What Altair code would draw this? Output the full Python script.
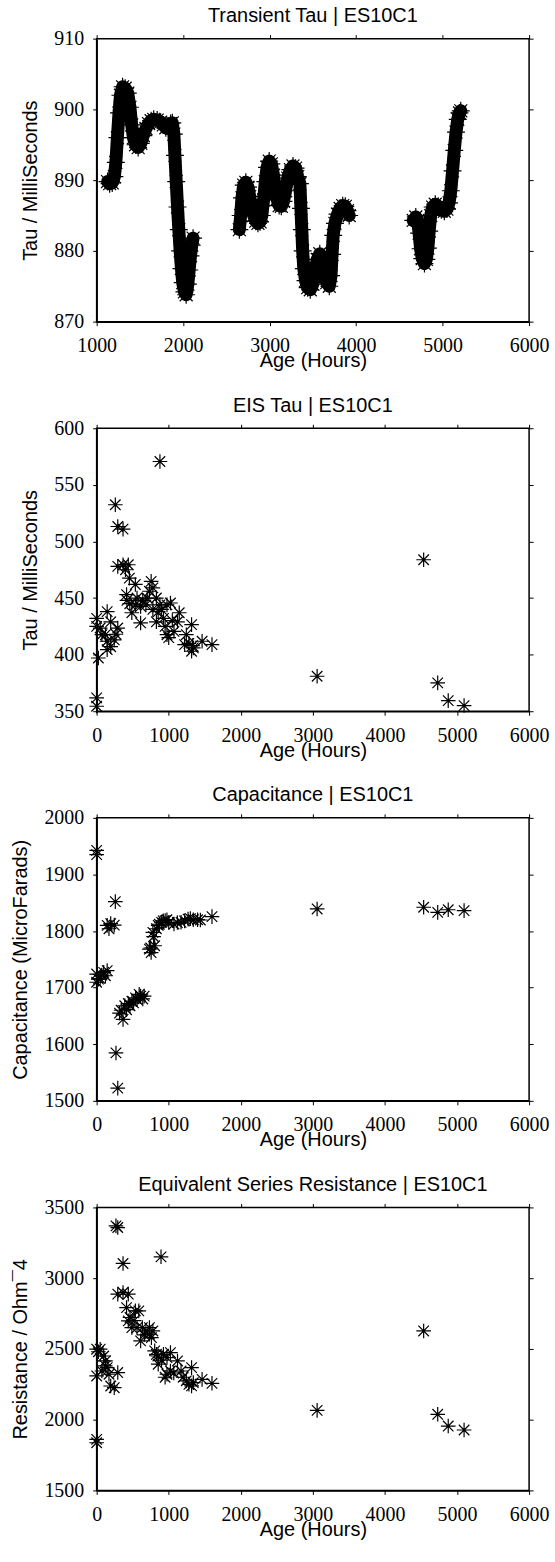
import altair as alt
import pandas as pd

# ---------------- Transient Tau | ES10C1 (three recording segments) ----------------
tt_a_hours = [1126, 1150, 1180, 1205, 1222, 1240, 1258, 1275, 1300, 1330, 1360, 1385, 1405, 1425, 1450,
              1480, 1510, 1540, 1570, 1600, 1630, 1660, 1700, 1740, 1770, 1800, 1830, 1855, 1875, 1893,
              1905, 1920, 1935, 1950, 1965, 1980, 1995, 2015, 2035, 2055, 2070, 2085, 2100, 2115]
tt_a_tau = [889.8, 889.5, 889.6, 890.5, 892.5, 896, 899.5, 902, 903.2, 903, 902.3, 900.3, 897.8, 896, 895,
            894.6, 895.2, 896.3, 897.3, 898, 898.4, 898.6, 898.5, 898.2, 897.8, 897.4, 897.6, 898, 898.1, 896.5,
            893.5, 889.8, 886.2, 883, 880, 877.5, 875.5, 874.2, 873.8, 875.3, 877.3, 879.3, 880.8, 881.8]

tt_b_hours = [2650, 2665, 2680, 2700, 2725, 2750, 2770, 2790, 2815, 2840, 2865, 2890, 2910, 2930, 2950,
              2970, 2995, 3020, 3045, 3065, 3085, 3110, 3135, 3160, 3185, 3210, 3240, 3270, 3300, 3325,
              3350, 3362, 3372, 3382, 3395, 3415, 3440, 3470, 3500, 3525, 3550, 3580, 3610, 3635, 3660,
              3690, 3710, 3722, 3735, 3755, 3785, 3815, 3845, 3875, 3900, 3920]
tt_b_tau = [883, 885, 887.5, 889.3, 889.7, 889, 887.7, 886.3, 885, 884.2, 883.9, 884.1, 885, 887.2, 889.8,
            891.8, 892.7, 892.3, 890.7, 888.8, 887.3, 886.4, 886.3, 887, 888.5, 890.3, 891.5, 892, 891.7, 890.5,
            889.5, 886, 883, 880, 877.5, 875.8, 874.8, 874.5, 875.3, 877, 878.8, 879.6, 878.7, 877, 875.5,
            875, 876.5, 879.5, 882.2, 883.9, 885.2, 886, 886.4, 886.3, 885.7, 885]

tt_c_hours = [4660, 4690, 4712, 4728, 4745, 4765, 4790, 4812, 4830, 4845, 4862, 4885, 4915, 4950, 4985,
              5020, 5050, 5075, 5095, 5115, 5135, 5155, 5175, 5195, 5210]
tt_c_tau = [884.3, 884.8, 884.3, 882.5, 880.3, 878.9, 878.2, 878.8, 880.4, 882.8, 885, 886.2, 886.6, 886.3, 885.8,
            885.6, 885.9, 886.8, 888.5, 891.3, 894.2, 896.8, 898.6, 899.5, 899.8]

# ---------------- EIS Tau | ES10C1 ----------------
eis_hours = [878, 259, 293, 366, 293, 366, 439, 454, 537, 415, 537, 488, 610, 683, 756, 780, 732, 610, 829,
             878, 854, 829, 976, 1024, 927, 976, 1073, 1146, 1122, 1244, 1317, 1220, 1341, 1317, 1463, 1600,
             0, 0, 49, 73, 0, 0, 24, 146, 195, 293, 122, 146, 146, 244, 268, 195,
             400, 420, 460, 560, 640, 700, 780, 900, 950, 1050, 1000, 1280, 1330,
             3059, 4537, 4732, 4878, 5098]
eis_tau = [570.6, 532.4, 513.2, 510.9, 478, 479.4, 479.4, 467.6, 462, 453, 444, 437, 442.6, 444, 464.7, 459,
           456, 428, 450, 444, 438, 429, 444, 445.6, 432, 417.6, 420.6, 437, 429, 417.6, 426.5, 408.8, 406,
           403, 411.8, 408.8,
           432, 425, 423.5, 417.6, 361.8, 354.4, 397, 438, 429, 423.5, 417.6, 411.8, 404.4, 413, 418, 407,
           475, 448, 445, 450, 448, 450, 440, 440, 425, 430, 415, 410, 408,
           380.9, 483.8, 375, 359.4, 355]

# ---------------- Capacitance | ES10C1 ----------------
cap_hours = [0, 0, 259, 146, 171, 244, 195, 0, 0, 49, 98, 122, 146, 268, 293, 317, 366, 415, 463, 512, 561,
             610, 659, 732, 756, 805, 780, 829, 854, 902, 951, 1000, 1073, 1171, 1268, 1341, 1439, 1600,
             340, 390, 440, 490, 540, 590, 640, 750, 790, 870, 925, 975, 1120, 1220, 1300, 1400, 24, 73,
             3059, 4537, 4732, 4878, 5098]
cap_uf = [1942.6, 1935, 1852, 1810, 1804, 1810.5, 1813, 1724, 1709.5, 1716, 1727, 1721, 1730, 1584.6, 1522.5,
          1655, 1644, 1661, 1668, 1673, 1679, 1685, 1685, 1768, 1762, 1774, 1797.6, 1804, 1810, 1815.4,
          1818.3, 1815, 1812.4, 1815.4, 1821, 1820, 1819.5, 1825.4,
          1660, 1668, 1672, 1676, 1682, 1688, 1680, 1770, 1790, 1812, 1818, 1820, 1815, 1818, 1822, 1820,
          1715, 1722,
          1839, 1842, 1833, 1837.6, 1836]

# ---------------- Equivalent Series Resistance | ES10C1 ----------------
esr_hours = [268, 293, 366, 893, 293, 366, 439, 415, 463, 439, 537, 585, 488, 610, 634, 683, 732, 780, 732,
             805, 829, 854, 927, 976, 1024, 976, 1024, 1122, 1171, 1244, 1317, 1317, 1341, 1463, 1600,
             0, 49, 0, 98, 122, 146, 171, 195, 244, 293, 73, 0, 0,
             520, 560, 660, 760, 850, 900, 950, 1070, 1200, 1280, 24, 120,
             3059, 4537, 4732, 4878, 5098]
esr_ohm = [3370, 3358, 3104, 3151, 2887, 2899, 2887, 2792, 2722, 2698, 2769, 2769, 2651, 2557, 2651, 2627,
           2604, 2627, 2651, 2486, 2462, 2392, 2462, 2439, 2474, 2321, 2344, 2415, 2344, 2274, 2368, 2239,
           2262, 2285, 2257,
           2498, 2498, 2309, 2450, 2415, 2368, 2321, 2238, 2226, 2333, 2344, 1861, 1837,
           2700, 2650, 2600, 2580, 2450, 2420, 2300, 2330, 2300, 2250, 2480, 2380,
           2066, 2627, 2038, 1955, 1927]

x_ticks_tt = [1000, 2000, 3000, 4000, 5000, 6000]
x_ticks = [0, 1000, 2000, 3000, 4000, 5000, 6000]
y_ticks_tt = [870, 880, 890, 900, 910]
y_ticks_eis = [350, 400, 450, 500, 550, 600]
y_ticks_cap = [1500, 1600, 1700, 1800, 1900, 2000]
y_ticks_esr = [1500, 2000, 2500, 3000, 3500]

# ---------------- tables ----------------
tt_df = pd.DataFrame({
    "hours": tt_a_hours + tt_b_hours + tt_c_hours,
    "value": tt_a_tau + tt_b_tau + tt_c_tau,
    "seg": ["a"] * len(tt_a_hours) + ["b"] * len(tt_b_hours) + ["c"] * len(tt_c_hours),
})
eis_df = pd.DataFrame({"hours": eis_hours, "value": eis_tau})
cap_df = pd.DataFrame({"hours": cap_hours, "value": cap_uf})
esr_df = pd.DataFrame({"hours": esr_hours, "value": esr_ohm})

STAR = "M-1,0L1,0M0,-1L0,1M-0.72,-0.72L0.72,0.72M-0.72,0.72L0.72,-0.72"
W, H = 434, 284
SERIF = "Liberation Serif, Times New Roman, serif"
SANS = "Liberation Sans"


def panel(df, xdom, ydom, xticks, yticks, title, ytitle, title_x, size, band=False):
    xs = alt.Scale(domain=xdom, nice=False, zero=False)
    ys = alt.Scale(domain=ydom, nice=False, zero=False)
    base = alt.Chart(df)
    layers = []
    if band:
        layers.append(
            base.mark_line(color="black", strokeWidth=13, strokeCap="round", strokeJoin="round").encode(
                x=alt.X("hours:Q", scale=xs, axis=None),
                y=alt.Y("value:Q", scale=ys, axis=None),
                detail="seg:N",
            )
        )
    layers.append(
        base.mark_point(shape=STAR, filled=False, color="black", strokeWidth=1.2, size=size, opacity=1).encode(
            x=alt.X("hours:Q", scale=xs,
                    axis=alt.Axis(orient="bottom", values=xticks, format="d", title="Age (Hours)",
                                  titleY=45, titleBaseline="alphabetic", labelPadding=10,
                                  labelFont=SERIF, labelFontSize=20, titleFont=SANS, titleFontSize=20)),
            y=alt.Y("value:Q", scale=ys,
                    axis=alt.Axis(orient="left", values=yticks, format="d", title=ytitle, titleAngle=-90,
                                  titleX=title_x, titleY=H / 2, titleAlign="center",
                                  titleBaseline="alphabetic", labelPadding=9,
                                  labelFont=SERIF, labelFontSize=20, titleFont=SANS, titleFontSize=20)),
        )
    )
    layers.append(
        base.mark_point(opacity=0, size=1).encode(
            x=alt.X("hours:Q", scale=xs,
                    axis=alt.Axis(orient="top", values=xticks, labels=False, title=None, domain=False,
                                  minExtent=0, maxExtent=4)),
            y=alt.Y("value:Q", scale=ys,
                    axis=alt.Axis(orient="right", values=yticks, labels=False, title=None, domain=False,
                                  minExtent=0, maxExtent=4)),
        )
    )
    return alt.layer(*layers).properties(
        width=W, height=H,
        title=alt.TitleParams(title, fontSize=20, font=SANS, fontWeight="normal",
                              color="black", baseline="alphabetic", offset=-13.5, anchor="middle"),
    ).resolve_axis(x="independent", y="independent")


p1 = panel(tt_df, [1000, 6000], [870, 910], x_ticks_tt, y_ticks_tt,
           "Transient Tau | ES10C1", "Tau / MilliSeconds", -60, 324, band=True)
p2 = panel(eis_df, [0, 6000], [350, 600], x_ticks, y_ticks_eis,
           "EIS Tau | ES10C1", "Tau / MilliSeconds", -60, 215)
p3 = panel(cap_df, [0, 6000], [1500, 2000], x_ticks, y_ticks_cap,
           "Capacitance | ES10C1", "Capacitance (MicroFarads)", -70, 215)
p4 = panel(esr_df, [0, 6000], [1500, 3500], x_ticks, y_ticks_esr,
           "Equivalent Series Resistance | ES10C1", "Resistance / Ohm¯4", -70, 215)

chart = alt.vconcat(p1, p2, p3, p4, spacing=107, bounds="flush").properties(
    padding={"left": 10, "top": 2, "right": 5, "bottom": 5},
    background="white",
).configure(
    style={"guide-label": {"font": SERIF, "fontSize": 20, "fill": "black"}},
).configure_view(
    stroke="black", strokeWidth=1.5
).configure_axis(
    domainColor="black", domainWidth=1.5, tickColor="black", tickWidth=1, tickSize=4,
    labelFont=SERIF, labelFontSize=20, labelColor="black",
    titleFont=SANS, titleFontSize=20, titleFontWeight="normal", titleColor="black",
    grid=False, labelFlush=False, labelOverlap=False,
)

chart.save("out.html", embed_options={"renderer": "svg", "actions": False})
